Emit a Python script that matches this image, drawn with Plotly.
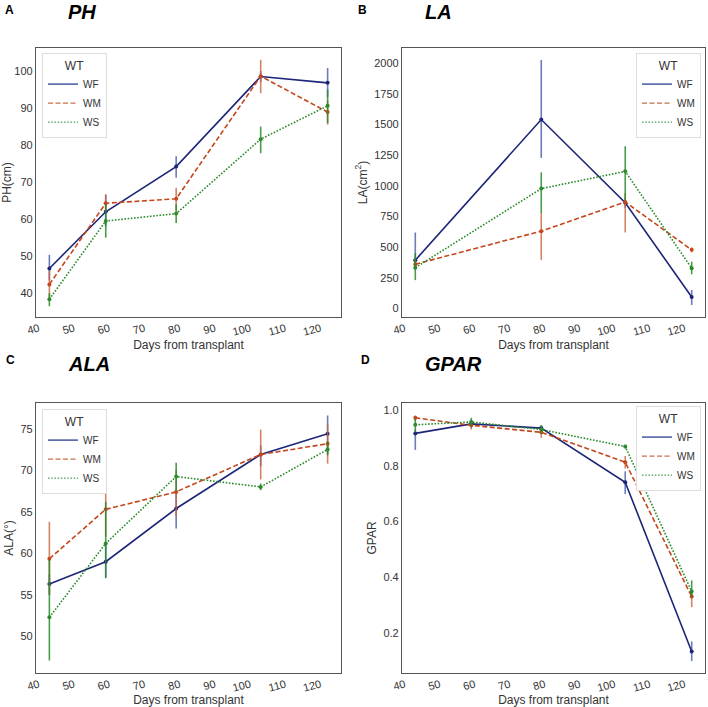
import plotly.graph_objects as go

# ---------------- data ----------------
series = ["WF", "WM", "WS"]
days = [43, 59, 79, 103, 122]
days_la = [43, 79, 103, 122]

# PH (cm)
ph_wf = [46.7, 62.0, 74.2, 98.5, 96.8]
ph_wf_hi = [50.4, 66.5, 77.0, 100.0, 100.8]
ph_wf_lo = [43.5, 58.0, 71.2, 97.0, 93.0]
ph_wm = [42.4, 64.3, 65.5, 98.6, 88.9]
ph_wm_hi = [46.0, 66.8, 68.5, 103.0, 92.0]
ph_wm_lo = [38.5, 62.0, 62.5, 94.0, 85.5]
ph_ws = [38.4, 59.5, 61.5, 81.6, 90.6]
ph_ws_hi = [40.0, 64.0, 64.0, 85.0, 95.0]
ph_ws_lo = [36.5, 55.0, 59.0, 77.8, 86.0]

# LA (cm2)
la_wf = [393, 1541, 862, 92]
la_wf_hi = [619, 2027, 900, 150]
la_wf_lo = [330, 1228, 820, 27]
la_wm = [360, 630, 868, 477]
la_wm_hi = [400, 778, 941, 497]
la_wm_lo = [330, 395, 619, 457]
la_ws = [332, 977, 1118, 327]
la_ws_hi = [450, 1110, 1323, 381]
la_ws_lo = [230, 778, 887, 278]

# ALA (deg)
ala_wf = [56.3, 59.0, 65.4, 71.9, 74.4]
ala_wf_hi = [57.5, 61.0, 67.5, 73.0, 76.6]
ala_wf_lo = [55.0, 57.1, 63.0, 70.5, 72.0]
ala_wm = [59.35, 65.3, 67.4, 71.9, 73.2]
ala_wm_hi = [63.8, 68.5, 70.0, 74.9, 75.5]
ala_wm_lo = [55.0, 62.0, 64.5, 68.9, 70.8]
ala_ws = [52.3, 61.2, 69.25, 68.0, 72.5]
ala_ws_hi = [59.2, 66.2, 70.9, 68.4, 73.5]
ala_ws_lo = [47.1, 57.0, 67.5, 67.6, 71.8]

# GPAR
gpar_wf = [0.916, 0.950, 0.935, 0.741, 0.134]
gpar_wf_hi = [0.930, 0.965, 0.945, 0.780, 0.170]
gpar_wf_lo = [0.857, 0.935, 0.925, 0.699, 0.100]
gpar_wm = [0.972, 0.945, 0.920, 0.813, 0.331]
gpar_wm_hi = [0.980, 0.955, 0.935, 0.835, 0.350]
gpar_wm_lo = [0.960, 0.930, 0.900, 0.790, 0.293]
gpar_ws = [0.947, 0.957, 0.930, 0.869, 0.349]
gpar_ws_hi = [0.970, 0.972, 0.945, 0.875, 0.389]
gpar_ws_lo = [0.920, 0.940, 0.915, 0.862, 0.330]

# ---------------- styles ----------------
line_colors = {"WF": "#1c2577", "WM": "#c4461c", "WS": "#2b8a2b"}
err_colors = {"WF": "rgba(70,90,170,0.8)", "WM": "rgba(200,100,60,0.8)", "WS": "rgba(40,140,40,0.85)"}
legend_colors = {"WF": "#3a4a9a", "WM": "#c8714a", "WS": "#5aa05a"}
dashes = {"WF": "solid", "WM": "5px,2.5px", "WS": "1.6px,1.6px"}

panels = [
    (days, [(ph_wf, ph_wf_hi, ph_wf_lo), (ph_wm, ph_wm_hi, ph_wm_lo), (ph_ws, ph_ws_hi, ph_ws_lo)], "x", "y", "legend"),
    (days_la, [(la_wf, la_wf_hi, la_wf_lo), (la_wm, la_wm_hi, la_wm_lo), (la_ws, la_ws_hi, la_ws_lo)], "x2", "y2", "legend2"),
    (days, [(ala_wf, ala_wf_hi, ala_wf_lo), (ala_wm, ala_wm_hi, ala_wm_lo), (ala_ws, ala_ws_hi, ala_ws_lo)], "x3", "y3", "legend3"),
    (days, [(gpar_wf, gpar_wf_hi, gpar_wf_lo), (gpar_wm, gpar_wm_hi, gpar_wm_lo), (gpar_ws, gpar_ws_hi, gpar_ws_lo)], "x4", "y4", "legend4"),
]

fig = go.Figure()
for xs, data, xa, ya, lg in panels:
    for name, (m, hi, lo) in zip(series, data):
        fig.add_trace(go.Scatter(
            x=xs, y=m, name=name, mode="lines+markers", showlegend=False,
            line=dict(color=line_colors[name], width=1.6, dash=dashes[name]),
            marker=dict(size=4, color=line_colors[name]),
            error_y=dict(type="data", symmetric=False,
                         array=[h - v for h, v in zip(hi, m)],
                         arrayminus=[v - l for v, l in zip(m, lo)],
                         color=err_colors[name], thickness=1.6, width=0),
            xaxis=xa, yaxis=ya,
        ))
    # legend-only line samples
    for name in series:
        fig.add_trace(go.Scatter(
            x=[None], y=[None], name=name, mode="lines", showlegend=True,
            line=dict(color=legend_colors[name], width=1.4, dash=dashes[name]),
            xaxis=xa, yaxis=ya, legend=lg,
        ))

W, H = 708, 707
def px_x(p):
    return p / W
def px_y(p):
    return 1 - p / H

left_dom = [px_x(36), px_x(341)]
right_dom = [px_x(402), px_x(705)]
top_dom = [px_y(317), px_y(48)]
bot_dom = [px_y(673), px_y(403)]

FONT = "Liberation Sans, Arial, sans-serif"
tickfont = dict(family=FONT, size=11, color="#333")
titlefont = dict(family=FONT, size=12, color="#333")

def xaxis(dom, anchor):
    return dict(domain=dom, anchor=anchor, range=[39.2, 125.8],
                tickvals=[40, 50, 60, 70, 80, 90, 100, 110, 120],
                tickangle=-15, tickfont=tickfont, showgrid=False, zeroline=False,
                showline=True, mirror=True, linecolor="#555", linewidth=1.2,
                ticks="", automargin=False,
                title=dict(text="Days from transplant", font=titlefont, standoff=0))

def yaxis(dom, anchor, rng, dtick, title, fmt=None):
    d = dict(domain=dom, anchor=anchor, range=rng, dtick=dtick, tickfont=tickfont,
             showgrid=False, zeroline=False, showline=True, mirror=True,
             linecolor="#555", linewidth=1.2, ticks="", automargin=False,
             title=dict(text=title, font=titlefont, standoff=4))
    if fmt:
        d["tickformat"] = fmt
    return d

legend_common = dict(bgcolor="white", bordercolor="#dddddd", borderwidth=1,
                     font=dict(family=FONT, size=10, color="#333"),
                     title=dict(text="WT", side="top center",
                                font=dict(family=FONT, size=12, color="#333")),
                     itemwidth=30, tracegroupgap=0)

fig.update_layout(
    width=W, height=H, margin=dict(l=0, r=0, t=0, b=0),
    paper_bgcolor="white", plot_bgcolor="white", showlegend=True,
    xaxis=xaxis(left_dom, "y"), yaxis=yaxis(top_dom, "x", [33.6, 106.2], 10, "PH(cm)"),
    xaxis2=xaxis(right_dom, "y2"), yaxis2=yaxis(top_dom, "x2", [-71, 2125], 250, "LA(cm<sup>2</sup>)"),
    xaxis3=xaxis(left_dom, "y3"), yaxis3=yaxis(bot_dom, "x3", [45.6, 78.1], 5, "ALA(°)"),
    xaxis4=xaxis(right_dom, "y4"), yaxis4=yaxis(bot_dom, "x4", [0.057, 1.025], 0.2, "GPAR", ".1f"),
    legend=dict(x=px_x(42), y=px_y(53), xanchor="left", yanchor="top", **legend_common),
    legend2=dict(x=px_x(701), y=px_y(53), xanchor="right", yanchor="top", **legend_common),
    legend3=dict(x=px_x(42), y=px_y(409), xanchor="left", yanchor="top", **legend_common),
    legend4=dict(x=px_x(701), y=px_y(406), xanchor="right", yanchor="top", **legend_common),
)

letter_font = dict(family=FONT, size=12, color="black")
title_font = dict(family=FONT, size=20, color="black")
for letter, lx, ly in [("A", 9, 10), ("B", 362, 10), ("C", 10, 360), ("D", 365, 360)]:
    fig.add_annotation(text=f"<b>{letter}</b>", x=px_x(lx), y=px_y(ly), xref="paper", yref="paper",
                       showarrow=False, font=letter_font, xanchor="center", yanchor="middle")
for t, tx, ty in [("PH", 82, 12), ("LA", 438, 12), ("ALA", 89, 364), ("GPAR", 453, 364)]:
    fig.add_annotation(text=f"<b><i>{t}</i></b>", x=px_x(tx), y=px_y(ty), xref="paper", yref="paper",
                       showarrow=False, font=title_font, xanchor="center", yanchor="middle")

fig.write_html("out.html", config={"displayModeBar": False},
               post_script="document.body.style.margin='0';document.body.style.overflow='hidden';")
